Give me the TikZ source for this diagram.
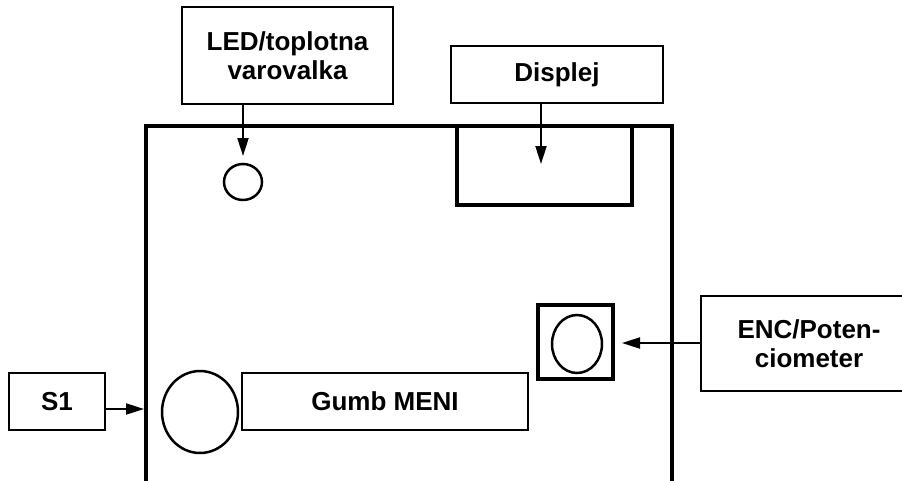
\documentclass[tikz,border=0pt]{standalone}
\usepackage{fontspec}
\setmainfont{Liberation Sans}
\usetikzlibrary{arrows.meta,shapes.geometric}
\begin{document}
\begin{tikzpicture}[x=1pt,y=-1pt,
  lbl/.style={draw=black,line width=1.5pt,fill=white,rectangle,inner sep=0pt,align=center,
    font=\fontsize{26}{29}\selectfont\bfseries},
  thickbox/.style={draw=black,line width=3.5pt,rectangle,inner sep=0pt},
  hole/.style={draw=black,line width=2.5pt,ellipse,inner sep=0pt},
  arr/.style={line width=2pt,-{Triangle[length=18pt,width=11pt]}}]
\useasboundingbox (0,0) rectangle (902,480);
\clip (0,0) rectangle (902,480);
\fill[white] (0,0) rectangle (902,480);
% board
\draw[line width=3.5pt,line join=miter] (146,490) -- (146,126) -- (672,126) -- (672,490);
% parts on board
\node[thickbox,minimum width=175pt,minimum height=79pt] (dispwin) at (544.5,165.5) {};
\node[hole,minimum width=38pt,minimum height=36pt] (ledc) at (243,182) {};
\node[hole,minimum width=76pt,minimum height=82pt] (btn) at (200,412) {};
\node[thickbox,minimum width=75pt,minimum height=74pt] (encframe) at (575.5,342) {};
\node[hole,minimum width=50pt,minimum height=58pt] (encknob) at (577,344) {};
% labels
\node[lbl,minimum width=211pt,minimum height=97pt] (led) at (287.5,55.5) {LED/toplotna\\varovalka};
\node[lbl,minimum width=212pt,minimum height=57pt] (disp) at (557,74.5) {Displej};
\node[lbl,minimum width=216pt,minimum height=95pt] (enc) at (809,343.5) {ENC/Poten-\\ciometer};
\node[lbl,minimum width=96pt,minimum height=57pt] (s1) at (57,401.5) {S1};
\node[lbl,minimum width=286pt,minimum height=57pt] (menu) at (385,401.5) {Gumb MENI};
% arrow ends
\coordinate (ledtip) at (243,156);
\coordinate (disptip) at (541,164);
\coordinate (enctip) at (622,343);
\coordinate (s1tip) at (144,409);
\draw[arr] (led.south -| ledtip) -- (ledtip);
\draw[arr] (disp.south -| disptip) -- (disptip);
\draw[arr] (enc.west |- enctip) -- (enctip);
\draw[arr] (s1.east |- s1tip) -- (s1tip);
\end{tikzpicture}
\end{document}
